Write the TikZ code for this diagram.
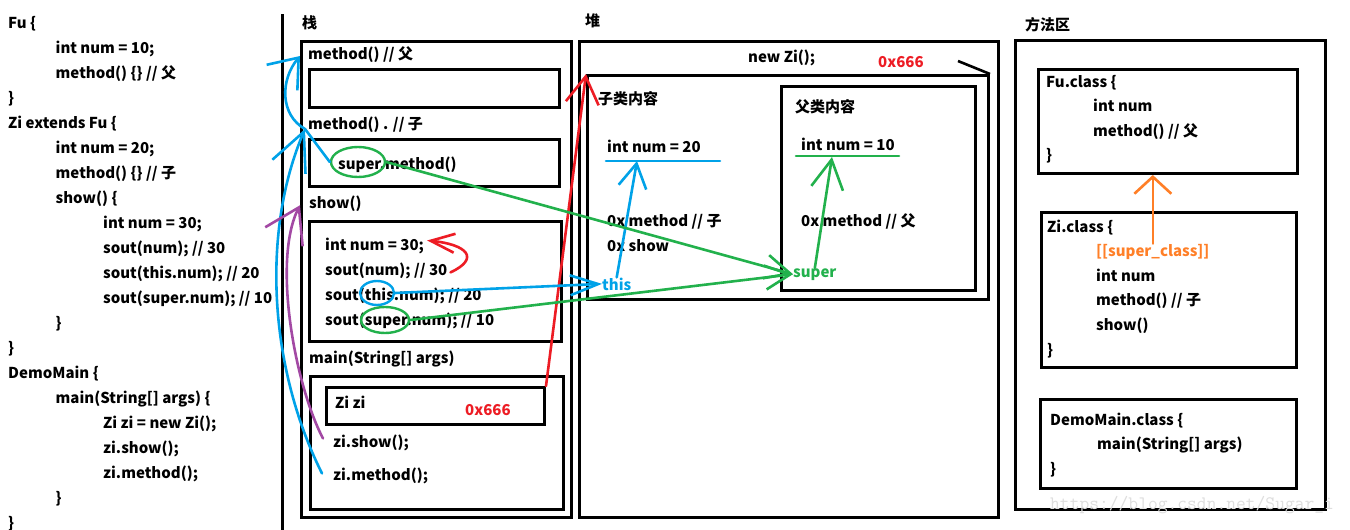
\documentclass[tikz,border=0pt]{standalone}
\usepackage{fontspec}
\setmainfont{Noto Sans CJK SC}
\usepackage{xcolor}
\usepackage{tikz}
\usetikzlibrary{arrows.meta,calc,shapes.geometric}
\definecolor{pblue}{HTML}{00A2E8}
\definecolor{pgreen}{HTML}{22B14C}
\definecolor{pred}{HTML}{ED1C24}
\definecolor{ppurple}{HTML}{A349A4}
\definecolor{porange}{HTML}{FF7F27}
\tikzset{%
  every code/.style={
    anchor=base west,
    inner sep=0pt,
    font=\bfseries\fontsize{15}{17}\selectfont
  },
  frame box/.style={
    draw,
    line width=3pt,
    anchor=north west,
    inner sep=0pt
  },
  dims/.style 2 args={minimum width=#1pt, minimum height=#2pt},
  ring/.style={ellipse, draw=#1, line width=2.4pt, inner sep=0pt},
  stroke/.style={line width=2.6pt, line cap=round, line join=round},
  vhead/.style 2 args={-{Straight Barb[length=#1pt, width=#2pt]}},
}
\begin{document}
\begin{tikzpicture}[x=1pt, y=-1pt]

    \fill [white] (0,0) rectangle (1350,530);
    \useasboundingbox (0,0) rectangle (1350,530);

    % source code
    \foreach \d/\t [count=\i from 0] in {0/{Fu \{}, 1/{int num = 10;}, 1/{method() \{\} // 父}, 0/\},
        0/{Zi extends Fu \{}, 1/{int num = 20;}, 1/{method() \{\} // 子}, 1/{show() \{},
        2/{int num = 30;}, 2/{sout(num); // 30}, 2/{sout(this.num); // 20}, 2/{sout(super.num); // 10},
        1/\}, 0/\}, 0/{DemoMain \{}, 1/{main(String[] args) \{}, 2/{Zi zi = new Zi();},
        2/{zi.show();}, 2/{zi.method();}, 1/\}, 0/\}}
    \node [every code] (code-\i) at (8+47.5*\d, 28+25*\i) {\t};

    \draw [line width=3pt] (282,14) -- (282,530);

    % stack
    \node [every code] (stack-lbl) at (302,28) {栈};
    \node [frame box, dims={270}{476}] (stack) at (300,40) {};
    \node [every code] (lbl-fu) at (308,59) {method() // 父};
    \node [frame box, dims={250}{38}] (frame-fu) at (308,68) {};
    \node [every code] (lbl-zi) at (308,129) {method() . // 子};
    \node [frame box, dims={250}{47}] (frame-zi) at (308,138) {};
    \node [every code] (supm) at (338,169) {super.method()};
    \node [every code] (lbl-show) at (309,208) {show()};
    \node [frame box, dims={252}{120}] (frame-show) at (308,220) {};
    \foreach \t [count=\i] in {{int num = 30;}, {sout(num); // 30}, {sout(this.num); // 20}, {sout(super.num); // 10}}
    \node [every code] (s-\i) at (325,225+25*\i) {\t};
    \node [every code] (lbl-main) at (309,363) {main(String[] args)};
    \node [frame box, dims={253}{133}] (frame-main) at (309,375) {};
    \node [frame box, dims={218}{37}] (zibox) at (325,386) {};
    \node [every code] (zi-var) at (335,408) {Zi zi};
    \node [every code, text=pred] (addr-1) at (465,415) {0x666};
    \node [every code] (call-show) at (333,447) {zi.show();};
    \node [every code] (call-method) at (333,480) {zi.method();};

    \node [ring=pgreen, minimum width=54pt, minimum height=30pt] (e-supm) at (358,162) {};
    \node [ring=pblue, minimum width=34pt, minimum height=24pt] (e-this) at (377,293) {};
    \node [ring=pgreen, minimum width=48pt, minimum height=26pt] (e-super) at (385,320) {};

    % heap
    \node [every code] (heap-lbl) at (585,27) {堆};
    \node [frame box, dims={419}{476}] (heap) at (578,40) {};
    \node [every code] (new-zi) at (748,62) {new Zi();};
    \node [every code, text=pred] (addr-2) at (878,67) {0x666};
    \node [frame box, dims={401}{224}] (obj) at (586,74) {};
    \node [frame box, dims={194}{204}] (parent) at (780,85) {};
    \node [every code] (zi-part) at (598,104) {子类内容};
    \node [every code] (fu-part) at (795,112) {父类内容};
    \node [every code] (num-zi) at (607,152) {int num = 20};
    \node [every code] (num-fu) at (801,150) {int num = 10};
    \draw [stroke, pblue] (606,161) -- (720,161);
    \draw [stroke, pgreen] (796,156) -- (899,156);
    \node [every code] (m-zi) at (607,226) {0x method // 子};
    \node [every code] (m-show) at (607,251) {0x show};
    \node [every code] (m-fu) at (801,226) {0x method // 父};
    \node [every code, text=pblue] (this) at (602,290) {this};
    \node [every code, text=pgreen] (super) at (793,277) {super};

    % method area
    \node [every code] (area-lbl) at (1025,30) {方法区};
    \node [frame box, dims={310}{469}] (area) at (1014,39) {};
    \node [frame box, dims={259}{104}] (cls-fu) at (1037,68) {};
    \node [frame box, dims={255}{155}] (cls-zi) at (1040,211) {};
    \node [frame box, dims={256}{89}] (cls-main) at (1039,398) {};
    \foreach \d/\t [count=\i from 0] in {0/{Fu.class \{}, 1/{int num}, 1/{method() // 父}, 0/\}}
    \node [every code] (fu-\i) at (1046+47*\d, 87+24.5*\i) {\t};
    \foreach \d/\t [count=\i from 0] in {0/{Zi.class \{}, 1/{}, 1/{int num}, 1/{method() // 子}, 1/{show()}, 0/\}}
    \node [every code] (zi-\i) at (1047+49*\d, 232+24.6*\i) {\t};
    \node [every code, text=porange] (supercls) at (1096,256) {[[super\_class]]};
    \foreach \d/\t [count=\i from 0] in {0/{DemoMain.class \{}, 1/{main(String[] args)}, 0/\}}
    \node [every code] (main-\i) at (1050+47*\d, 425+24.5*\i) {\t};

    \node [anchor=base west, inner sep=0pt, text=black!13,
        font=\ttfamily\fontsize{19}{20}\selectfont] (mark) at (1050,509) {https://blog.csdn.net/Sugar\_i};

    % connectors
    \coordinate (hub) at ($(frame-zi.north west)+(-3,-9)$);
    \coordinate (fu-in) at ($(frame-fu.north west)+(-8,-12)$);
    \coordinate (show-in) at ($(lbl-show.west)+(-9,2)$);
    \coordinate (tip-zi) at (637,161);
    \coordinate (tip-fu) at (832,157);
    \coordinate (tick) at (958,61);

    \draw [stroke, pblue, vhead={38}{36}] ($(call-method.west)+(-11,-2)$)
        .. controls +(-54,-108) and +(-43,101) .. (hub);
    \draw [stroke, pblue] (e-supm.west) -- (hub);
    \draw [stroke, pblue, vhead={26}{40}] (hub) .. controls +(-25,-14) and +(-20,24) .. (fu-in);
    \draw [stroke, ppurple, vhead={33}{42}] ($(call-show.west)+(-10,-4)$)
        .. controls +(-28,-53) and +(-28,55) .. (show-in);
    \draw [stroke, pred, vhead={24}{19}] ($(s-2.east)+(3,2)$)
        .. controls +(30,-14) and +(40,4) .. ($(s-1.east)+(3,-5)$);
    \draw [stroke, pred, vhead={27}{33}] (zibox.north east) -- (obj.north west);
    \draw [stroke, pblue, vhead={28}{20}] (e-this.east) -- (this.west);
    \draw [stroke, pblue, vhead={24}{28}] (this.north) -- (tip-zi);
    \draw [stroke, pgreen, vhead={25}{24}] (e-supm.east) -- (super.west);
    \draw [stroke, pgreen, vhead={25}{24}] (e-super.east) -- (super.west);
    \draw [stroke, pgreen, vhead={29}{32}] (super.north) -- (tip-fu);
    \draw [stroke, porange, vhead={17}{37}] (supercls.north) -- (supercls.north |- cls-fu.south);
    \draw [line width=2.6pt] (tick) -- (obj.north east);

\end{tikzpicture}
\end{document}
